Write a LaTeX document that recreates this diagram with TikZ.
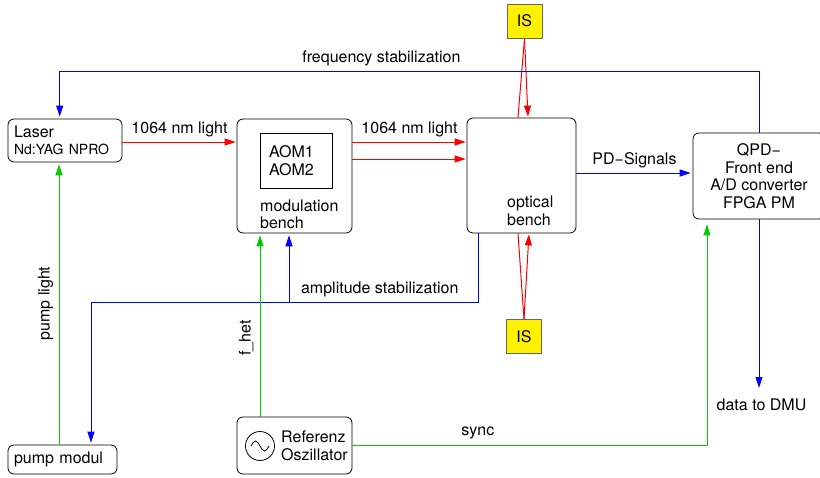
\documentclass[tikz,border=0pt]{standalone}
\usepackage{fontspec}
\setmainfont{TeX Gyre Heros}
\usetikzlibrary{positioning,arrows.meta,calc}
\makeatletter
\newcommand\strokergb[1]{\pgfsys@invoke{#1 RG}}
\makeatother
\tikzset{
  block/.style={draw, line width=0.8pt, rounded corners=6pt, inner sep=0pt},
  isslot/.style={minimum width=35pt, minimum height=34pt, inner sep=0pt},
  isbox/.style={isslot, draw=black!60, fill=yellow, line width=0.8pt, /utils/exec={\strokergb{0.4 0.4 0.4}}},
  lbl/.style={inner sep=0pt, text=black},
  tip/.style={-{Triangle[length=11pt,width=7pt]}},
  beamline/.style={red, line width=1pt, /utils/exec={\strokergb{1 0 0}}},
  beamarrow/.style={beamline, tip, shorten >=1pt},
  ctrlline/.style={blue, line width=1pt, tip, shorten >=2pt, /utils/exec={\strokergb{0 0 1}}},
  clkline/.style={green!80!black, line width=1pt, tip, shorten >=2pt, /utils/exec={\strokergb{0 0.8 0}}}
}

\begin{document}
\begin{tikzpicture}[x=1pt, y=-1pt, font=\fontsize{16}{17.5}\selectfont]
\useasboundingbox (0,0) rectangle (820,477);
% Blocks
\node[block, minimum width=114pt, minimum height=43pt, text width=102pt, align=left] (laser) at (65,140.5)
  {Laser\\{\fontsize{14}{17}\selectfont Nd:YAG NPRO}};
\node[block, minimum width=115pt, minimum height=114pt] (modbench) at (294.5,176) {};
\node[draw, line width=0.8pt, minimum width=72pt, minimum height=55pt, text width=54pt, align=left, inner sep=0pt] (aom) at (296,160.5) {AOM1\\AOM2};
\node[inner sep=0pt, anchor=north west, align=left] (modlbl) at (260,199.5) {modulation\\bench};
\node[block, minimum width=109pt, minimum height=115pt] (optbench) at (521.5,175.5) {};
\node[inner sep=0pt, anchor=north west, align=left] (optlbl) at (507,196) {optical\\bench};
\node[isslot] (istop) at (524.5,21) {};
\node[isslot] (isbot) at (524,336.5) {};
\node[block, minimum width=132pt, minimum height=86pt, align=center] (qpd) at (759,176)
  {QPD−\\Front end\\A/D converter\\FPGA PM};
\node[block, minimum width=109pt, minimum height=29pt, text width=97pt, align=left] (pump) at (62.5,459.5) {pump modul};
\node[block, minimum width=115pt, minimum height=57pt] (osc) at (294.5,445.5) {};
\node[draw, line width=0.8pt, circle, minimum size=29pt, inner sep=0pt] (sine) at (260,446) {};
\draw[line width=0.8pt] ([xshift=-9pt]sine.center) sin ++(4.5,-5) cos ++(4.5,5) sin ++(4.5,5) cos ++(4.5,-5);
\node[inner sep=0pt, anchor=west, align=left] (osclbl) at (281,446) {Referenz\\Oszillator};

% Laser light path
\draw[beamarrow] ([yshift=-1.5pt]laser.east) -- ([yshift=-1.5pt]laser.east -| modbench.west)
  node[midway, lbl, above=5pt] (light1) {1064 nm light};
\draw[beamarrow] ([yshift=34pt]modbench.east) -- ([yshift=34pt]modbench.east -| optbench.west)
  node[midway, lbl, above=5pt] (light2) {1064 nm light};
\draw[beamarrow] ([yshift=17pt]modbench.east) -- ([yshift=17pt]modbench.east -| optbench.west);
% IS links
\draw[beamline] (istop.south) -- ([xshift=-3.5pt]optbench.north);
\draw[beamarrow] (istop.south) -- ([xshift=6.5pt]optbench.north);
\draw[beamline] ([xshift=-3.5pt]optbench.south) -- (isbot.north);
\draw[beamarrow] (isbot.north) -- ([xshift=7.5pt]optbench.south);

% Signals and control loops
\draw[ctrlline] ([yshift=2.5pt]optbench.east) -- ([yshift=2.5pt]optbench.east -| qpd.west)
  node[midway, lbl, above=5pt] (pdlbl) {PD−Signals};
\draw[ctrlline] (qpd.north) -- ++(0,-60.7) -| ([xshift=-5.3pt]laser.north)
  node[pos=0.27, lbl, above=5pt] (freqlbl) {frequency stabilization};
\draw[ctrlline] ([xshift=-43.5pt]optbench.south) -- ++(0,69) -| ([xshift=28.5pt]pump.north)
  node[pos=0.127, lbl, above=5pt] (amplbl) {amplitude stabilization};
\coordinate (amptap) at (289,302);
\draw[ctrlline] (amptap) -- (amptap |- modbench.south);
\coordinate (dmuend) at (759,388);
\draw[ctrlline, shorten >=0pt] (qpd.south) -- (dmuend);
\node[inner sep=0pt, below=11pt of dmuend, xshift=2.5pt] (dmu) {data to DMU};

% Pump and reference clock
\draw[clkline] ([xshift=-3.5pt]pump.north) -- ([xshift=-3.5pt]pump.north |- laser.south)
  node[midway, lbl, sloped, above=5.5pt] (pumplbl) {pump light};
\draw[clkline] ([xshift=-34.5pt]osc.north) -- ([xshift=-34.5pt]osc.north |- modbench.south)
  node[pos=0.43, lbl, sloped, above=6pt] (fhetlbl) {f\_het};
\draw[clkline, shorten >=5pt] ([yshift=0.5pt]osc.east) -| ([xshift=-52pt]qpd.south)
  node[pos=0.177, lbl, above=6pt] (synclbl) {sync};

% Integrating spheres on top
\node[isbox] (istopbox) at (istop) {IS};
\node[isbox] (isbotbox) at (isbot) {IS};
\end{tikzpicture}
\end{document}
